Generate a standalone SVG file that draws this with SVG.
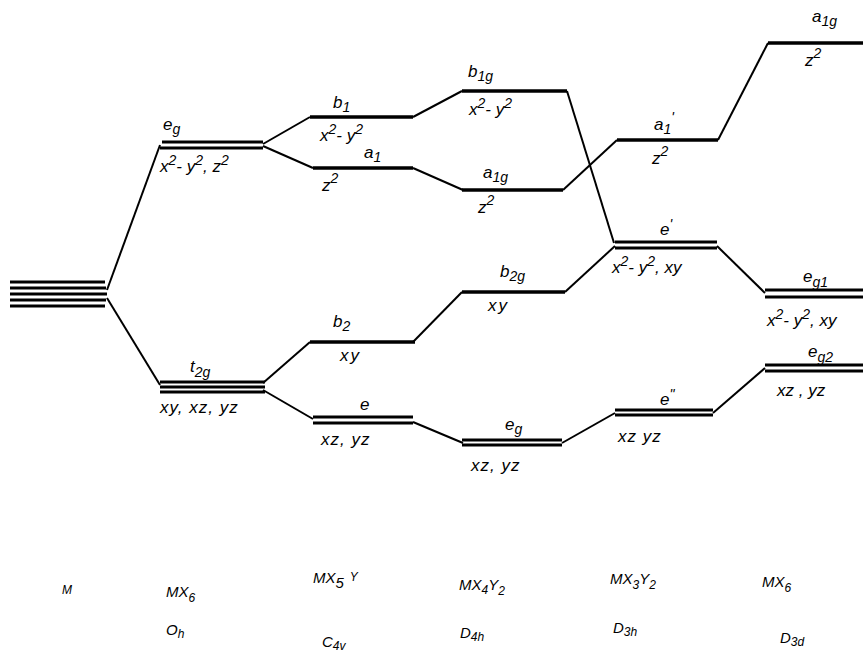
<svg xmlns="http://www.w3.org/2000/svg" width="863" height="657" viewBox="0 0 863 657">
<style>
.l{stroke:#000;stroke-width:3.5;fill:none}
.d{stroke:#000;stroke-width:3;fill:none}
.c{stroke:#000;stroke-width:2;fill:none}
text{font-family:"Liberation Sans",Arial,sans-serif;font-style:italic;font-size:17px;fill:#000}
.s{font-size:14px}
.b{font-size:15px}
.bs{font-size:12px}
</style>
<rect width="863" height="657" fill="#fff"/>
<g id="connectors">
<path class="c" d="M107 290 L160 145"/>
<path class="c" d="M107 298 L160 385"/>
<path class="c" d="M263 144 L310 117"/>
<path class="c" d="M263 146 L313 168"/>
<path class="c" d="M413 117 L462 91"/>
<path class="c" d="M413 168 L463 190"/>
<path class="c" d="M567 91 L614 243"/>
<path class="c" d="M563 190 L617 140"/>
<path class="c" d="M718 140 L768 43"/>
<path class="c" d="M263 383 L310 342"/>
<path class="c" d="M263 390 L313 419"/>
<path class="c" d="M413 342 L462 292"/>
<path class="c" d="M565 292 L615 246"/>
<path class="c" d="M413 422 L463 443"/>
<path class="c" d="M562 443 L615 413"/>
<path class="c" d="M717 246 L765 293"/>
<path class="c" d="M713 413 L765 368"/>
</g>
<g id="M">
<path class="d" d="M10 282 H105 M10 288 H106 M10 294 H107 M10 300 H106 M10 306 H105"/>
<text class="bs" x="62" y="594">M</text>
</g>
<g id="Oh-eg">
<path class="d" d="M162 142 H263 M160 148 H263"/>
<text x="163" y="130">e<tspan class="s" dy="4">g</tspan></text>
<text x="160" y="172">x<tspan class="s" dy="-7">2</tspan><tspan dy="7">- y</tspan><tspan class="s" dy="-7">2</tspan><tspan dy="7">, z</tspan><tspan class="s" dy="-7">2</tspan></text>
</g>
<g id="Oh-t2g">
<path class="d" d="M160 382 H265 M160 387 H265 M160 392 H265"/>
<text x="190" y="372">t<tspan class="s" dy="5">2g</tspan></text>
<text x="160" y="413" letter-spacing="1">xy, xz, yz</text>
</g>
<g id="C4v-b1">
<path class="l" d="M310 117 H413"/>
<text x="333" y="108">b<tspan class="s" dy="4">1</tspan></text>
<text x="320" y="141">x<tspan class="s" dy="-7">2</tspan><tspan dy="7">- y</tspan><tspan class="s" dy="-7">2</tspan></text>
</g>
<g id="C4v-a1">
<path class="l" d="M313 168 H413"/>
<text x="364" y="158">a<tspan class="s" dy="4">1</tspan></text>
<text x="322" y="191">z<tspan class="s" dy="-8">2</tspan></text>
</g>
<g id="C4v-b2">
<path class="l" d="M310 342 H415"/>
<text x="333" y="327">b<tspan class="s" dy="4">2</tspan></text>
<text x="340" y="361" letter-spacing="2">xy</text>
</g>
<g id="C4v-e">
<path class="d" d="M313 417 H413 M313 423 H413"/>
<text x="360" y="410">e</text>
<text x="321" y="445" letter-spacing="1">xz, yz</text>
</g>
<g id="D4h-b1g">
<path class="l" d="M462 91 H567"/>
<text x="468" y="77">b<tspan class="s" dy="4">1g</tspan></text>
<text x="469" y="115">x<tspan class="s" dy="-7">2</tspan><tspan dy="7">- y</tspan><tspan class="s" dy="-7">2</tspan></text>
</g>
<g id="D4h-a1g">
<path class="l" d="M462 190 H563"/>
<text x="483" y="178">a<tspan class="s" dy="4">1g</tspan></text>
<text x="478" y="213">z<tspan class="s" dy="-8">2</tspan></text>
</g>
<g id="D4h-b2g">
<path class="l" d="M462 292 H565"/>
<text x="500" y="277">b<tspan class="s" dy="4">2g</tspan></text>
<text x="488" y="311" letter-spacing="2">xy</text>
</g>
<g id="D4h-eg">
<path class="d" d="M462 440 H562 M462 445 H562"/>
<text x="505" y="430">e<tspan class="s" dy="4">g</tspan></text>
<text x="471" y="471" letter-spacing="1">xz, yz</text>
</g>
<g id="D3h-a1">
<path class="l" d="M617 140 H718"/>
<text x="654" y="130">a<tspan class="s" dy="4">1</tspan><tspan class="s" dy="-12">'</tspan></text>
<text x="652" y="164">z<tspan class="s" dy="-8">2</tspan></text>
</g>
<g id="D3h-e1">
<path class="d" d="M615 242 H717 M615 248 H717"/>
<text x="660" y="235">e<tspan class="s" dy="-6">'</tspan></text>
<text x="612" y="273">x<tspan class="s" dy="-7">2</tspan><tspan dy="7">- y</tspan><tspan class="s" dy="-7">2</tspan><tspan dy="7">, xy</tspan></text>
</g>
<g id="D3h-e2">
<path class="d" d="M615 410 H713 M615 415 H713"/>
<text x="660" y="405">e<tspan class="s" dy="-6">"</tspan></text>
<text x="618" y="442" letter-spacing="1">xz  yz</text>
</g>
<g id="D3d-a1g">
<path class="l" d="M768 43 H863"/>
<text x="812" y="22">a<tspan class="s" dy="4">1g</tspan></text>
<text x="805" y="66">z<tspan class="s" dy="-8">2</tspan></text>
</g>
<g id="D3d-eg1">
<path class="d" d="M765 290 H863 M765 297 H863"/>
<text x="803" y="282">e<tspan class="s" dy="5">g1</tspan></text>
<text x="767" y="326">x<tspan class="s" dy="-7">2</tspan><tspan dy="7">- y</tspan><tspan class="s" dy="-7">2</tspan><tspan dy="7">, xy</tspan></text>
</g>
<g id="D3d-eg2">
<path class="d" d="M765 365 H863 M765 371 H863"/>
<text x="808" y="357">e<tspan class="s" dy="5">g2</tspan></text>
<text x="777" y="396">xz , yz</text>
</g>
<g id="labels">
<text class="b" x="166" y="597">MX<tspan class="bs" dy="5">6</tspan></text>
<text class="b" x="313" y="583">MX<tspan dy="5">5</tspan><tspan dx="6" dy="-7" class="bs">Y</tspan></text>
<text class="b" x="459" y="590">MX<tspan class="bs" dy="4">4</tspan><tspan dy="-4">Y</tspan><tspan class="bs" dy="5">2</tspan></text>
<text class="b" x="610" y="584">MX<tspan class="bs" dy="5">3</tspan><tspan dy="-5">Y</tspan><tspan class="bs" dy="5">2</tspan></text>
<text class="b" x="762" y="587">MX<tspan class="bs" dy="5">6</tspan></text>
<text class="b" x="166" y="635">O<tspan class="bs" dy="3">h</tspan></text>
<text class="b" x="322" y="647">C<tspan class="bs" dy="3">4v</tspan></text>
<text class="b" x="460" y="638">D<tspan class="bs" dy="3">4h</tspan></text>
<text class="b" x="613" y="633">D<tspan class="bs" dy="3">3h</tspan></text>
<text class="b" x="780" y="643">D<tspan class="bs" dy="3">3d</tspan></text>
</g>
</svg>
